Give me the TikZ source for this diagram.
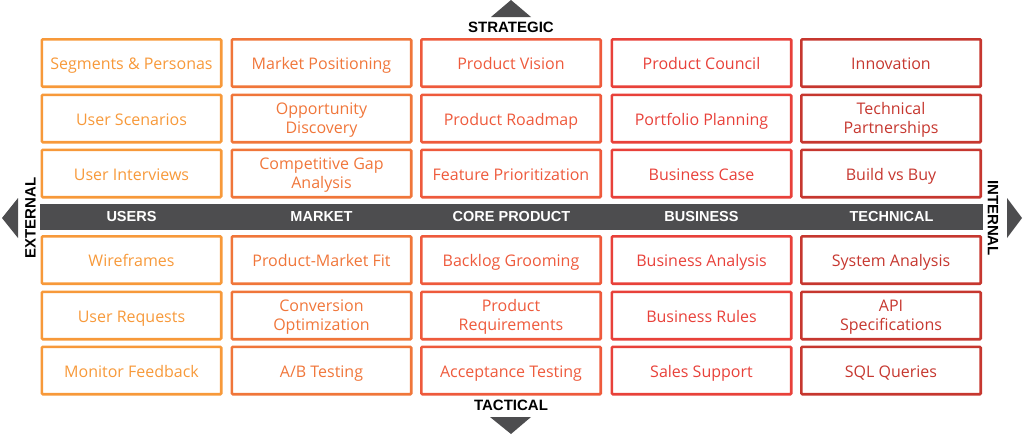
\documentclass[tikz,border=0pt]{standalone}
\usepackage{fontspec}
\newfontfamily\osans{Open Sans}
\newfontfamily\lsans{Liberation Sans}
\definecolor{cA}{HTML}{F7993A}
\definecolor{cB}{HTML}{F0763A}
\definecolor{cC}{HTML}{EE5A3C}
\definecolor{cD}{HTML}{E8413A}
\definecolor{cE}{HTML}{C6372F}
\definecolor{bar}{HTML}{4D4D4F}
\newcommand{\twolines}[2]{\rule{0pt}{14.5pt}#1\\#2\rule[-3pt]{0pt}{3pt}}
\tikzset{
  cellbase/.style={draw=#1, text=#1, line width=2.6pt, rounded corners=1pt,
    minimum width=179.4pt, minimum height=47.4pt, inner sep=0pt,
    align=center, font=\osans\fontsize{16}{19.5}\selectfont},
  cell/.style={cellbase=#1, text height=16pt, text depth=3pt},
  cellm/.style={cellbase=#1},
  barlabel/.style={text=white, font=\lsans\bfseries\fontsize{14.5}{16}\selectfont, inner sep=0pt},
  axislabel/.style={text=black, font=\lsans\bfseries\fontsize{15}{16}\selectfont, inner sep=0pt},
  tri/.style={fill=bar, draw=none}
}
\begin{document}
\begin{tikzpicture}[x=1pt,y=-1pt]
\useasboundingbox (0,0) rectangle (1024,434);
% center bar
\node[fill=bar, minimum width=943pt, minimum height=26pt, inner sep=0pt] (bar) at (511.5,216.5) {};
\node[barlabel] (lu) at (131.5,216.5) {USERS};
\node[barlabel] (lm) at (321.5,216.5) {MARKET};
\node[barlabel] (lc) at (511.5,216.5) {CORE PRODUCT};
\node[barlabel] (lb) at (701.5,216.5) {BUSINESS};
\node[barlabel] (lt) at (891.5,216.5) {TECHNICAL};
% arrows
\fill[tri] (2,218) -- (18,198) -- (18,238) -- cycle;
\fill[tri] (1022,218) -- (1007,198) -- (1007,238) -- cycle;
\fill[tri] (511,0) -- (491,17) -- (531,17) -- cycle;
\fill[tri] (511,434) -- (490,417) -- (531,417) -- cycle;
\node[axislabel] (strat) at (511,27.5) {STRATEGIC};
\node[axislabel] (tact) at (511,405) {TACTICAL};
\node[axislabel, rotate=90] (ext) at (30.5,218) {EXTERNAL};
\node[axislabel, rotate=-90] (int) at (993,218) {INTERNAL};
% column 1
\node[cell=cA] (a1) at (131.5,63) {Segments \& Personas};
\node[cell=cA] (a2) at (131.5,118.5) {User Scenarios};
\node[cell=cA] (a3) at (131.5,173.5) {User Interviews};
\node[cell=cA] (a4) at (131.5,260) {Wireframes};
\node[cell=cA] (a5) at (131.5,315.5) {User Requests};
\node[cell=cA] (a6) at (131.5,370.5) {Monitor Feedback};
% column 2
\node[cell=cB] (b1) at (321.5,63) {Market Positioning};
\node[cellm=cB] (b2) at (321.5,118.5) {\twolines{Opportunity}{Discovery}};
\node[cellm=cB] (b3) at (321.5,173.5) {\twolines{Competitive Gap}{Analysis}};
\node[cell=cB] (b4) at (321.5,260) {Product-Market Fit};
\node[cellm=cB] (b5) at (321.5,315.5) {\twolines{Conversion}{Optimization}};
\node[cell=cB] (b6) at (321.5,370.5) {A/B Testing};
% column 3
\node[cell=cC] (c1) at (511,63) {Product Vision};
\node[cell=cC] (c2) at (511,118.5) {Product Roadmap};
\node[cell=cC] (c3) at (511,173.5) {Feature Prioritization};
\node[cell=cC] (c4) at (511,260) {Backlog Grooming};
\node[cellm=cC] (c5) at (511,315.5) {\twolines{Product}{Requirements}};
\node[cell=cC] (c6) at (511,370.5) {Acceptance Testing};
% column 4
\node[cell=cD] (d1) at (701.5,63) {Product Council};
\node[cell=cD] (d2) at (701.5,118.5) {Portfolio Planning};
\node[cell=cD] (d3) at (701.5,173.5) {Business Case};
\node[cell=cD] (d4) at (701.5,260) {Business Analysis};
\node[cell=cD] (d5) at (701.5,315.5) {Business Rules};
\node[cell=cD] (d6) at (701.5,370.5) {Sales Support};
% column 5
\node[cell=cE] (e1) at (891,63) {Innovation};
\node[cellm=cE] (e2) at (891,118.5) {\twolines{Technical}{Partnerships}};
\node[cell=cE] (e3) at (891,173.5) {Build vs Buy};
\node[cell=cE] (e4) at (891,260) {System Analysis};
\node[cellm=cE] (e5) at (891,315.5) {\twolines{API}{Specifications}};
\node[cell=cE] (e6) at (891,370.5) {SQL Queries};
\end{tikzpicture}
\end{document}
